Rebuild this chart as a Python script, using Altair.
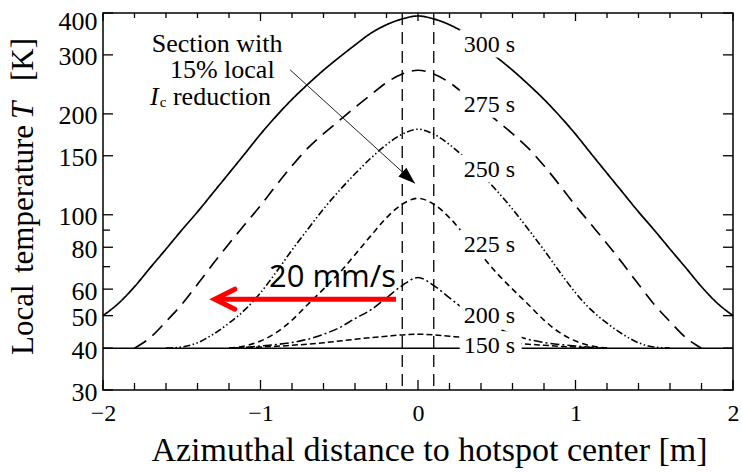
import altair as alt
import pandas as pd

SERIF = "Liberation Serif"

# Azimuthal sampling positions [m]
X_POS = [-2.0, -1.9, -1.8, -1.7, -1.6, -1.5, -1.4, -1.3, -1.2, -1.1, -1.0,
         -0.9, -0.8, -0.7, -0.6, -0.5, -0.4, -0.3, -0.2, -0.1, 0.0,
         0.1, 0.2, 0.3, 0.4, 0.5, 0.6, 0.7, 0.8, 0.9, 1.0,
         1.1, 1.2, 1.3, 1.4, 1.5, 1.6, 1.7, 1.8, 1.9, 2.0]

# Local temperature profiles [K]; None where the profile lies on the 40 K level
T_300 = [50, 54.5, 61, 69.5, 79, 90, 102, 116.5, 133, 152, 174,
         197, 221, 245, 270, 295, 321, 348, 369, 384, 392,
         384, 369, 348, 321, 295, 270, 245, 221, 197, 174,
         152, 133, 116.5, 102, 90, 79, 69.5, 61, 54.5, 50]
T_275 = [None, None, 40, 43, 48, 54, 62, 71.5, 82, 93.5, 106.5,
         122.5, 140, 158, 174.5, 191, 209, 228, 248, 263, 270,
         263, 248, 228, 209, 191, 174.5, 158, 140, 122.5, 106.5,
         93.5, 82, 71.5, 62, 54, 48, 43, 40, None, None]
T_250 = [None, None, None, None, 40, 40.3, 41.5, 44, 47.5, 52, 58.5,
         67.5, 78.5, 90.5, 104, 118, 132.5, 147.5, 162, 174, 180,
         174, 162, 147.5, 132.5, 118, 104, 90.5, 78.5, 67.5, 58.5,
         52, 47.5, 44, 41.5, 40.3, 40, None, None, None, None]
T_225 = [None, None, None, None, None, None, None, None, 40, 40.6, 42,
         44.5, 48.5, 54, 60, 67, 76, 86.5, 98, 107.5, 112,
         107.5, 98, 86.5, 76, 67, 60, 54, 48.5, 44.5, 42,
         40.6, 40, None, None, None, None, None, None, None, None]
T_200 = [None, None, None, None, None, None, None, None, 40, 40.2, 40.6,
         41, 41.6, 42.5, 44, 46, 49, 52, 56.5, 61.5, 65,
         61.5, 56.5, 52, 49, 46, 44, 42.5, 41.6, 41, 40.6,
         40.2, 40, None, None, None, None, None, None, None, None]
T_150 = [None, None, None, None, None, None, None, None, 40, 40.1, 40.3,
         40.5, 40.8, 41.1, 41.5, 42, 42.5, 43, 43.4, 43.8, 44,
         43.8, 43.4, 43, 42.5, 42, 41.5, 41.1, 40.8, 40.5, 40.3,
         40.1, 40, None, None, None, None, None, None, None, None]

SERIES = ["300 s", "275 s", "250 s", "225 s", "200 s", "150 s"]
PROFILES = [T_300, T_275, T_250, T_225, T_200, T_150]
DASHES = [[1, 0], [14, 8], [7, 2.5, 1.5, 2.5, 1.5, 2.5], [6, 4], [9, 3, 2, 3], [6, 3]]
WIDTHS = [1.7, 1.5, 1.1, 1.3, 1.3, 1.3]

# Curve labels
LABEL_X = [0.29, 0.29, 0.29, 0.29, 0.29, 0.29]
LABEL_T = [307, 203, 130, 77.6, 47.4, 38.6]

# Initial temperature and edges of the section with reduced Ic
T_INITIAL = [40]
SECTION_X = [-0.1, 0.1]

# Axis ticks
X_MAJOR = [-2, -1, 0, 1, 2]
X_MINOR = [-1.8, -1.6, -1.4, -1.2, -0.8, -0.6, -0.4, -0.2,
           0.2, 0.4, 0.6, 0.8, 1.2, 1.4, 1.6, 1.8]
Y_MAJOR = [30, 40, 50, 60, 80, 100, 150, 200, 300, 400]
Y_MINOR = [70, 90]

# Section note and its pointer
NOTE_TEXT = ["Section with", "15% local", "reduction"]
NOTE_X = [-1.691, -1.575, -1.556]
NOTE_T = [307, 255.6, 212.8]
NOTE_I = {"text": ["I"], "x": [-1.702], "T": [212.8]}
NOTE_SUB = {"text": ["c"], "x": [-1.64], "T": [209]}
POINTER = {"x": [-0.813], "T": [271], "x2": [-0.019], "T2": [124]}

# Propagation speed arrow
SPEED = {"text": ["20 mm/s"], "x": [-0.14], "T": [61]}
SPEED_ARROW = {"x": [-0.14], "x2": [-1.29], "T": [56]}

W, H = 630, 377

rows = []
for name, vals in zip(SERIES, PROFILES):
    for xv, tv in zip(X_POS, vals):
        if tv is not None:
            rows.append({"x": xv, "T": tv, "series": name})
profiles = pd.DataFrame(rows)

x_scale = alt.Scale(domain=[-2, 2], nice=False, zero=False)
y_scale = alt.Scale(type="log", domain=[30, 400], nice=False)

x_axis = alt.Axis(
    values=X_MAJOR, format="d", labelFont=SERIF, labelFontSize=24, labelColor="black",
    labelPadding=30, labelBaseline="alphabetic", labelFlush=False, labelOverlap=False,
    ticks=False, tickSize=0, domain=False, grid=False,
    title="Azimuthal distance to hotspot center [m]", titleFont=SERIF, titleFontSize=34,
    titleFontWeight="normal", titleColor="black", titleX=326, titleY=70,
    titleBaseline="alphabetic", titleAlign="center",
)
y_axis = alt.Axis(
    values=Y_MAJOR, format="d", labelFont=SERIF, labelFontSize=26, labelColor="black",
    labelPadding=6, labelOverlap=False, labelBaseline="middle",
    labelOffset={"condition": {"test": "datum.value == 400", "value": 8}, "value": 2},
    ticks=False, tickSize=0, domain=False, grid=False, title="",
)


def X(f="x"):
    return alt.X(f"{f}:Q", scale=x_scale, axis=x_axis)


def Y(f="T"):
    return alt.Y(f"{f}:Q", scale=y_scale, axis=y_axis)


curves = alt.Chart(profiles).mark_line(interpolate="monotone", color="black").encode(
    x=X(),
    y=Y(),
    detail="series:N",
    strokeDash=alt.StrokeDash("series:N", scale=alt.Scale(domain=SERIES, range=DASHES), legend=None),
    size=alt.Size("series:N", scale=alt.Scale(domain=SERIES, range=WIDTHS), legend=None),
)

baseline = alt.Chart(pd.DataFrame({"T": T_INITIAL})).mark_rule(
    color="black", strokeWidth=1.5).encode(y=Y())

section = alt.Chart(pd.DataFrame({"x": SECTION_X})).mark_rule(
    color="black", strokeWidth=1.3, strokeDash=[12, 7]).encode(x=X())

labels_df = pd.DataFrame({"x": LABEL_X, "T": LABEL_T, "text": SERIES})
label_masks = alt.Chart(labels_df).mark_point(
    shape="M-1,-0.45L1,-0.45L1,0.45L-1,0.45Z", filled=True, color="white",
    opacity=1, strokeWidth=0, size=3844, xOffset=27, yOffset=-8,
).encode(x=X(), y=Y())
labels = alt.Chart(labels_df).mark_text(
    font=SERIF, fontSize=24, color="black", align="left", baseline="alphabetic",
).encode(x=X(), y=Y(), text="text:N")

note = alt.Chart(pd.DataFrame({"x": NOTE_X, "T": NOTE_T, "text": NOTE_TEXT})).mark_text(
    font=SERIF, fontSize=26, color="black", align="left", baseline="alphabetic",
).encode(x=X(), y=Y(), text="text:N")
note_i = alt.Chart(pd.DataFrame(NOTE_I)).mark_text(
    font=SERIF, fontSize=26, fontStyle="italic", color="black", align="left",
    baseline="alphabetic",
).encode(x=X(), y=Y(), text="text:N")
note_sub = alt.Chart(pd.DataFrame(NOTE_SUB)).mark_text(
    font=SERIF, fontSize=15, color="black", align="left", baseline="alphabetic",
).encode(x=X(), y=Y(), text="text:N")

pointer_df = pd.DataFrame(POINTER)
pointer = alt.Chart(pointer_df).mark_rule(color="#222", strokeWidth=1).encode(
    x=X(), y=Y(), x2="x2:Q", y2="T2:Q")
pointer_head = alt.Chart(pointer_df).mark_point(
    shape="M0,0L-1,-0.35L-1,0.35Z", filled=True, color="black", opacity=1,
    size=1156, angle=42,
).encode(x=X("x2"), y=Y("T2"))

speed_df = pd.DataFrame(SPEED_ARROW)
speed_line = alt.Chart(speed_df).mark_rule(color="#ff0000", strokeWidth=5).encode(
    x=X(), x2="x2:Q", y=Y())
speed_head = alt.Chart(speed_df).mark_point(
    shape="M1,-0.5L0,0L1,0.5", filled=False, color="#ff0000", opacity=1,
    strokeWidth=5, size=1600, strokeCap="round", strokeJoin="miter",
).encode(x=X("x2"), y=Y())
speed_text = alt.Chart(pd.DataFrame(SPEED)).mark_text(
    font="Open Sans", fontSize=31, color="black", align="right", baseline="alphabetic",
).encode(x=X(), y=Y(), text="text:N")

# Inward-pointing ticks on all four sides of the frame
xmaj = pd.DataFrame({"x": X_MAJOR})
xmin = pd.DataFrame({"x": X_MINOR})
ymaj = pd.DataFrame({"T": Y_MAJOR})
ymin = pd.DataFrame({"T": Y_MINOR})
tick = dict(color="black", strokeWidth=1.3)
ticks = [
    alt.Chart(xmaj).mark_rule(**tick).encode(x=X(), y=alt.value(H), y2=alt.value(H - 10)),
    alt.Chart(xmin).mark_rule(**tick).encode(x=X(), y=alt.value(H), y2=alt.value(H - 7)),
    alt.Chart(xmaj).mark_rule(**tick).encode(x=X(), y=alt.value(0), y2=alt.value(8)),
    alt.Chart(xmin).mark_rule(**tick).encode(x=X(), y=alt.value(0), y2=alt.value(5)),
    alt.Chart(ymaj).mark_rule(**tick).encode(y=Y(), x=alt.value(0), x2=alt.value(10)),
    alt.Chart(ymin).mark_rule(**tick).encode(y=Y(), x=alt.value(0), x2=alt.value(7)),
    alt.Chart(ymaj).mark_rule(**tick).encode(y=Y(), x=alt.value(W), x2=alt.value(W - 10)),
    alt.Chart(ymin).mark_rule(**tick).encode(y=Y(), x=alt.value(W), x2=alt.value(W - 7)),
]

# Vertical axis title with an italic T, set word by word
YTITLE_WORDS = ["Local", "temperature", "T", "[K]"]
YTITLE_STYLE = ["normal", "normal", "italic", "normal"]
YTITLE_START = [342, 260, 106, 68]
ytitle = [
    alt.Chart(pd.DataFrame({"text": [word]})).mark_text(
        font=SERIF, fontSize=31, fontStyle=style, color="black", angle=270,
        align="left", baseline="middle",
    ).encode(x=alt.value(-79), y=alt.value(start), text="text:N")
    for word, style, start in zip(YTITLE_WORDS, YTITLE_STYLE, YTITLE_START)
]

chart = alt.layer(
    curves, baseline, section, *ticks, label_masks, labels, note, note_i, note_sub,
    pointer, pointer_head, speed_line, speed_head, speed_text, *ytitle,
).properties(
    width=W, height=H,
    autosize=alt.AutoSizeParams(type="none"),
    padding={"left": 103, "top": 13, "right": 9, "bottom": 82},
    background="white",
).configure_view(stroke="black", strokeWidth=1.5)

chart.save("out.html", embed_options={"renderer": "svg", "actions": False})
